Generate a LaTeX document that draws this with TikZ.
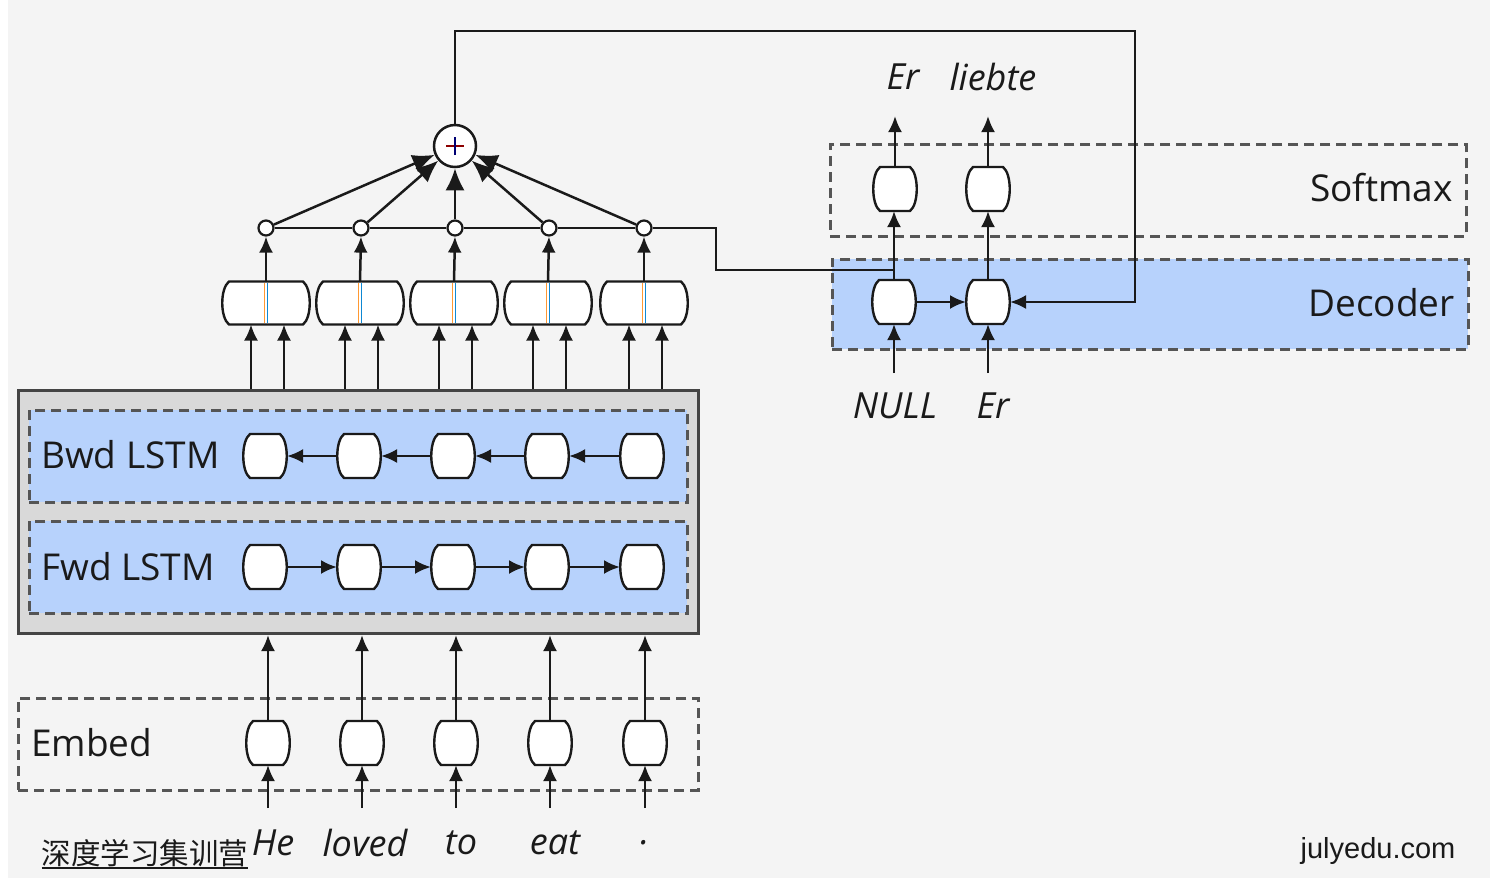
\documentclass[tikz,border=0pt]{standalone}
\usepackage{fontspec}
\setmainfont{Open Sans}
\newfontfamily\cjkfont{Noto Sans CJK SC}
\newfontfamily\arialfont{Liberation Sans}
\usetikzlibrary{arrows.meta}
\definecolor{bg}{HTML}{F4F4F4}
\definecolor{lblue}{RGB}{183,210,252}
\definecolor{dgray}{HTML}{555555}
\definecolor{boxgray}{HTML}{D9D9D9}
\definecolor{ink}{HTML}{1A1A1A}
\tikzset{
 cell/.style={rectangle, minimum width=44pt, minimum height=44pt, inner sep=0pt, outer sep=0pt},
 widecell/.style={cell, minimum width=88pt, minimum height=43pt},
 cellline/.style={draw=ink, fill=white, line width=2.4pt},
 dotnode/.style={circle, draw=ink, fill=white, line width=2.2pt, minimum size=15pt, inner sep=0pt},
 conn/.style={line width=2.5pt, draw=ink, -{Latex[length=16pt,width=14pt]}},
 bigconn/.style={line width=2.5pt, draw=ink, -{Latex[length=22pt,width=19pt]}},
 plainline/.style={line width=2.5pt, draw=ink},
 grp/.style={draw=dgray, dash pattern=on 10pt off 6pt, line width=2.7pt, anchor=north west, inner sep=0pt},
 lab/.style={font=\fontsize{37}{44}\selectfont, text=ink, inner sep=0pt},
 word/.style={font=\fontsize{36}{44}\selectfont\itshape, text=ink, inner sep=0pt},
}
\newcommand\cellshape[1]{%
  \filldraw[cellline] ([xshift=7pt]#1.north west) -- ([xshift=-7pt]#1.north east)
    .. controls +(9,7) and +(9,-7) .. ([xshift=-7pt]#1.south east)
    -- ([xshift=7pt]#1.south west)
    .. controls +(-9,-7) and +(-9,7) .. cycle;}
\begin{document}
\begin{tikzpicture}[x=1pt,y=-1pt]
\useasboundingbox (0,0) rectangle (1504,884);
\fill[white] (0,0) rectangle (1504,884);
\fill[bg] (8,0) rectangle (1490,878);

% ---------- group boxes ----------
\node[grp] (embedbox) at (17,697) [minimum width=680pt, minimum height=92pt] {};
\node[draw=dgray!80!black, fill=boxgray, line width=3pt, anchor=north west, inner sep=0pt, minimum width=680pt, minimum height=243pt] (lstm) at (17,389) {};
\node[grp, fill=lblue] (bwdbox) at (28,409) [minimum width=658pt, minimum height=92pt] {};
\node[grp, fill=lblue] (fwdbox) at (28,520) [minimum width=658pt, minimum height=92pt] {};
\node[grp] (softbox) at (829,143) [minimum width=636pt, minimum height=92pt] {};
\node[grp, fill=lblue] (decbox) at (831,258) [minimum width=636pt, minimum height=90pt] {};

% ---------- labels ----------
\node[lab, anchor=west] (lembed) at (31,743) {Embed};
\node[lab, anchor=west] (lbwd) at (41,455) {Bwd LSTM};
\node[lab, anchor=west] (lfwd) at (41,567) {Fwd LSTM};
\node[lab, anchor=east] (lsoft) at (1453,188) {Softmax};
\node[lab, anchor=east] (ldec) at (1455,303) {Decoder};

% ---------- encoder columns ----------
\foreach \i/\xe/\xl/\xc/\xd/\w/\wx in {1/268/265/266/266/He/273, 2/362/359/360/361/loved/365, 3/456/453/454/455/to/461, 4/550/547/548/549/eat/555, 5/645/642/644/644/./645}{
  \node[cell] (e\i) at (\xe,743) {};
  \node[cell] (b\i) at (\xl,456) {};
  \node[cell] (f\i) at (\xl,567) {};
  \node[widecell] (c\i) at (\xc,303) {};
  \cellshape{e\i}
  \cellshape{b\i}
  \cellshape{f\i}
  \cellshape{c\i}
  \draw[orange!80, line width=1pt] ([xshift=-1.2pt,yshift=-1.5pt]c\i.north) -- ([xshift=-1.2pt,yshift=1.5pt]c\i.south);
  \draw[cyan!70!blue, line width=1.2pt] ([xshift=1.3pt,yshift=-1.5pt]c\i.north) -- ([xshift=1.3pt,yshift=1.5pt]c\i.south);
  \node[dotnode] (d\i) at (\xd,228) {};
  \node[word] (w\i) at (\wx,843) {\w};
  \coordinate (win\i) at (\xe,808);
  \draw[conn] (win\i) -- (e\i.south);
  \draw[conn] (e\i.north) -- (e\i.north |- lstm.south);
  \draw[conn] ([xshift=-15pt]c\i.south |- lstm.north) -- ([xshift=-15pt]c\i.south);
  \draw[conn] ([xshift=18pt]c\i.south |- lstm.north) -- ([xshift=18pt]c\i.south);
  \draw[conn] (c\i.north) -- (d\i.south);
}
\foreach \a/\b in {1/2,2/3,3/4,4/5}{
  \draw[conn] (f\a.east) -- (f\b.west);
  \draw[conn] (b\b.west) -- (b\a.east);
}

% ---------- attention sum ----------
\node[circle, draw=ink, fill=white, line width=2.5pt, minimum size=42pt, inner sep=0pt] (p) at (455,146) {};
\draw[line width=1.6pt, red!55!black] ([xshift=-9pt]p.center) -- ([xshift=9pt]p.center);
\draw[line width=1.6pt, blue!45!black] ([yshift=-9pt]p.center) -- ([yshift=9pt]p.center);
\foreach \i in {1,...,5}{ \draw[bigconn] (d\i) -- (p); }
\draw[plainline] (d1.east) -- (d2.west) (d2.east) -- (d3.west) (d3.east) -- (d4.west) (d4.east) -- (d5.west);

% ---------- decoder ----------
\node[cell] (dn1) at (894,302) {};
\node[cell] (dn2) at (988,302) {};
\node[cell] (sm1) at (895,189) {};
\node[cell] (sm2) at (988,189) {};
\cellshape{dn1}
\cellshape{dn2}
\cellshape{sm1}
\cellshape{sm2}
\node[word] (in1) at (895,406) {NULL};
\node[word] (in2) at (993,406) {Er};
\node[word] (out1) at (903,77) {Er};
\node[word] (out2) at (993,77) {liebte};
\coordinate (i1) at (894,373);
\coordinate (i2) at (988,373);
\coordinate (o1) at (895,116);
\coordinate (o2) at (988,116);
\draw[conn] (i1) -- (dn1.south);
\draw[conn] (i2) -- (dn2.south);
\draw[conn] (dn1.east) -- (dn2.west);
\draw[conn] (dn1.north) -- (dn1.north |- sm1.south);
\draw[conn] (dn2.north) -- (sm2.south);
\draw[conn] (sm1.north) -- (o1);
\draw[conn] (sm2.north) -- (o2);

% context line from attention dots to decoder
\coordinate (j) at (894,270);
\draw[plainline] (d5.east) -- (716,228) -- (716,270) -- (j);
% feedback line from sum to decoder
\draw[conn] (p.north) -- (455,31) -- (1135,31) -- (1135,302) -- (dn2.east);

% ---------- watermarks ----------
\node[inner sep=0pt, text=ink] (wm) at (145,853) {\cjkfont\fontsize{29.5}{31}\selectfont 深度学习集训营};
\draw[line width=1.5pt, ink] (wm.south west |- 0,868) -- (wm.south east |- 0,868);
\node[inner sep=0pt, text=ink] (url) at (1378,851) {\arialfont\fontsize{29}{30}\selectfont julyedu.com};
\end{tikzpicture}
\end{document}
